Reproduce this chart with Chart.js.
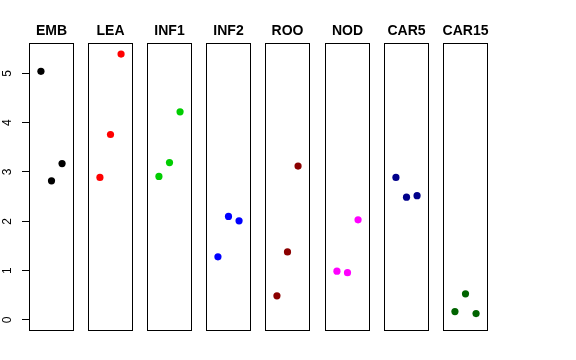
<!DOCTYPE html>
<html>
<head>
<meta charset="utf-8">
<script src="https://cdn.jsdelivr.net/npm/chart.js@4"></script>
<style>
  body { margin: 0; background: #fff; }
  #wrap { position: relative; width: 576px; height: 360px; overflow: hidden; }
  #wrap canvas { position: absolute; top: 0; }
</style>
</head>
<body>
<div id="wrap"></div>
<script>
// tissues, one panel each
const tissues = ['EMB', 'LEA', 'INF1', 'INF2', 'ROO', 'NOD', 'CAR5', 'CAR15'];
const colors = ['#000000', '#FF0000', '#00CD00', '#0000FF', '#8B0000', '#FF00FF', '#00008B', '#006400'];

// three replicates per tissue
const reps = [1, 2, 3];
const EMB = [5.04, 2.82, 3.17];
const LEA = [2.89, 3.76, 5.39];
const INF1 = [2.91, 3.19, 4.22];
const INF2 = [1.28, 2.10, 2.01];
const ROO = [0.49, 1.38, 3.12];
const NOD = [0.99, 0.96, 2.03];
const CAR5 = [2.89, 2.49, 2.52];
const CAR15 = [0.17, 0.53, 0.13];
const values = [EMB, LEA, INF1, INF2, ROO, NOD, CAR5, CAR15];

const yTicks = [0, 1, 2, 3, 4, 5];

const wrap = document.getElementById('wrap');
const font = '"Liberation Sans", Arial, Helvetica, sans-serif';

// panel box + title
const panelPlugin = {
  id: 'panel',
  afterDraw(chart, args, opts) {
    const ctx = chart.ctx;
    const a = chart.chartArea;
    ctx.save();
    ctx.strokeStyle = '#000';
    ctx.lineWidth = 1;
    ctx.strokeRect(Math.round(a.left) + 0.5, Math.round(a.top) + 0.5,
      Math.round(a.right - a.left) - 1, Math.round(a.bottom - a.top) - 1);
    ctx.fillStyle = '#000';
    ctx.font = 'bold 14px ' + font;
    ctx.textAlign = 'center';
    ctx.textBaseline = 'alphabetic';
    ctx.fillText(opts.title, (a.left + a.right) / 2, 34.5);
    ctx.restore();
  }
};

// rotated y tick labels like base R
const yLabelPlugin = {
  id: 'ylabels',
  afterDraw(chart) {
    const sc = chart.scales.y;
    if (!sc.options.display) return;
    const ctx = chart.ctx;
    ctx.save();
    ctx.fillStyle = '#000';
    ctx.font = '12px ' + font;
    ctx.textAlign = 'center';
    ctx.textBaseline = 'middle';
    sc.ticks.forEach(t => {
      const y = sc.getPixelForValue(t.value);
      ctx.save();
      ctx.translate(8, y);
      ctx.rotate(-Math.PI / 2);
      ctx.fillText(String(t.value), 0, 0);
      ctx.restore();
    });
    ctx.restore();
  }
};

const side = 15;     // spare room around each panel for the title
const panelW = 45;

tissues.forEach((name, i) => {
  const first = i === 0;
  const boxLeft = Math.round(29 + i * 59.1);
  const left = first ? 0 : boxLeft - side;
  const padLeft = first ? 0 : side;
  const width = (boxLeft - left) + panelW + side;
  const cv = document.createElement('canvas');
  cv.width = width;
  cv.height = 360;
  cv.style.left = left + 'px';
  cv.style.width = width + 'px';
  cv.style.height = '360px';
  wrap.appendChild(cv);

  new Chart(cv, {
    type: 'scatter',
    data: {
      datasets: [{
        data: reps.map((r, j) => ({ x: r, y: values[i][j] })),
        backgroundColor: colors[i],
        borderColor: colors[i],
        pointRadius: 3.6,
        pointHoverRadius: 3.6,
        borderWidth: 0
      }]
    },
    options: {
      responsive: false,
      animation: false,
      events: [],
      layout: { autoPadding: false, padding: { top: 43, bottom: 29, left: padLeft, right: side } },
      plugins: {
        legend: { display: false },
        tooltip: { enabled: false },
        panel: { title: name }
      },
      scales: {
        x: { type: 'linear', min: -0.13, max: 4.13, display: false },
        y: {
          type: 'linear',
          min: -0.223,
          max: 5.614,
          display: first,
          afterBuildTicks(sc) { sc.ticks = yTicks.map(v => ({ value: v })); },
          afterFit(sc) { if (first) sc.width = 29; },
          ticks: { display: false, includeBounds: false },
          grid: {
            drawOnChartArea: false,
            drawTicks: true,
            tickLength: 7,
            color: '#000',
            lineWidth: 1
          },
          border: { display: false }
        }
      }
    },
    plugins: [panelPlugin, yLabelPlugin]
  });
});
</script>
</body>
</html>
